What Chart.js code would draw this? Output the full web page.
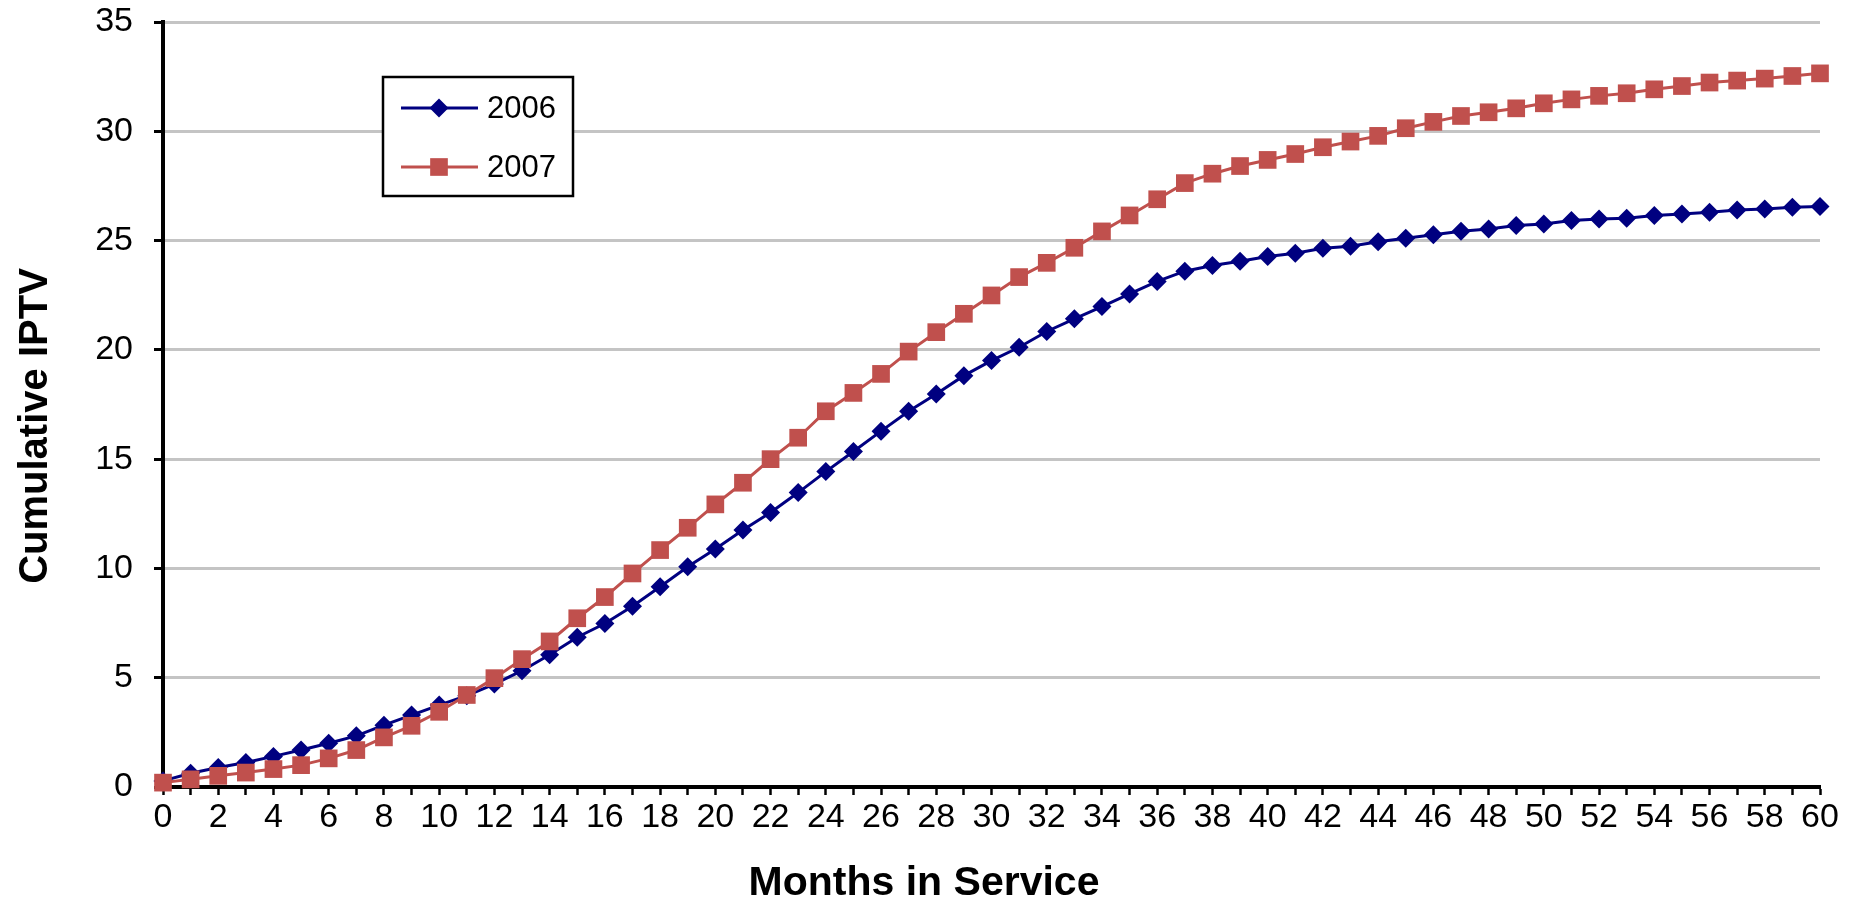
<!DOCTYPE html>
<html>
<head>
<meta charset="utf-8">
<script src="https://cdn.jsdelivr.net/npm/chart.js@4/dist/chart.umd.min.js"></script>
<style>
html,body{margin:0;padding:0;background:#fff;}
#wrap{width:1860px;height:900px;position:relative;}
</style>
</head>
<body>
<div id="wrap"><canvas id="c" width="1860" height="900"></canvas></div>
<script>
const months = [0,1,2,3,4,5,6,7,8,9,10,11,12,13,14,15,16,17,18,19,20,21,22,23,24,25,26,27,28,29,30,31,32,33,34,35,36,37,38,39,40,41,42,43,44,45,46,47,48,49,50,51,52,53,54,55,56,57,58,59,60];
const series2006 = [0.28,0.63,0.89,1.12,1.40,1.69,2.00,2.34,2.83,3.29,3.75,4.18,4.71,5.32,6.05,6.85,7.48,8.27,9.16,10.08,10.89,11.76,12.56,13.47,14.43,15.35,16.28,17.19,17.98,18.82,19.51,20.12,20.84,21.42,21.98,22.56,23.13,23.60,23.86,24.05,24.27,24.42,24.65,24.74,24.95,25.11,25.27,25.43,25.53,25.69,25.76,25.92,25.99,26.02,26.15,26.22,26.30,26.40,26.45,26.53,26.56];
const series2007 = [0.20,0.35,0.51,0.66,0.82,1.00,1.31,1.69,2.27,2.80,3.44,4.21,4.98,5.85,6.66,7.72,8.69,9.77,10.84,11.86,12.93,13.92,15.00,15.98,17.19,18.03,18.90,19.92,20.81,21.65,22.49,23.33,23.98,24.67,25.42,26.15,26.89,27.63,28.06,28.41,28.69,28.96,29.27,29.53,29.79,30.14,30.43,30.70,30.87,31.05,31.28,31.46,31.62,31.74,31.92,32.07,32.23,32.32,32.41,32.53,32.65];
const seriesLabels = ["2006","2007"];
const xTickLabels = ["0","2","4","6","8","10","12","14","16","18","20","22","24","26","28","30","32","34","36","38","40","42","44","46","48","50","52","54","56","58","60"];
const yTickLabels = ["0","5","10","15","20","25","30","35"];
const xTitle = "Months in Service";
const yTitle = "Cumulative IPTV";

const FONT = "'Liberation Sans', Arial, Helvetica, sans-serif";
const BLUE = "#000080";
const RED = "#C0504D";

function drawMarker(ctx, style, x, y, r, color) {
  ctx.fillStyle = color;
  ctx.beginPath();
  if (style === 'rectRot') {
    ctx.moveTo(x - r, y); ctx.lineTo(x, y - r); ctx.lineTo(x + r, y); ctx.lineTo(x, y + r);
  } else {
    const s = r * Math.SQRT1_2;
    ctx.rect(x - s, y - s, 2 * s, 2 * s);
  }
  ctx.closePath();
  ctx.fill();
}

const overlay = {
  id: 'overlay',
  afterDraw(chart) {
    const ctx = chart.ctx;
    ctx.save();
    ctx.fillStyle = '#000';
    ctx.textAlign = 'center';
    ctx.textBaseline = 'alphabetic';
    ctx.font = `bold 41px ${FONT}`;
    ctx.fillText(xTitle, 924, 895);
    ctx.save();
    ctx.translate(47, 426);
    ctx.rotate(-Math.PI / 2);
    ctx.font = `bold 40px ${FONT}`;
    ctx.fillText(yTitle, 0, 0);
    ctx.restore();

    // legend box
    ctx.fillStyle = '#fff';
    ctx.fillRect(383, 77, 190, 119);
    ctx.strokeStyle = '#000';
    ctx.lineWidth = 2.5;
    ctx.strokeRect(383, 77, 190, 119);
    const order = [0, 1];
    order.forEach((di, i) => {
      const ds = chart.data.datasets[di];
      const y = 108 + 59 * i;
      ctx.strokeStyle = ds.borderColor;
      ctx.lineWidth = 3;
      ctx.beginPath(); ctx.moveTo(401, y); ctx.lineTo(478, y); ctx.stroke();
      drawMarker(ctx, ds.pointStyle, 439, y, ds.pointRadius, ds.pointBackgroundColor);
      ctx.fillStyle = '#000';
      ctx.font = `31px ${FONT}`;
      ctx.textAlign = 'left';
      ctx.textBaseline = 'middle';
      ctx.fillText(ds.label, 487, y + 1);
    });
    ctx.restore();
  }
};

new Chart(document.getElementById('c'), {
  type: 'line',
  data: {
    labels: months,
    datasets: [
      {
        label: seriesLabels[0], data: series2006,
        borderColor: BLUE, backgroundColor: BLUE,
        pointBackgroundColor: BLUE, pointBorderColor: BLUE,
        pointStyle: 'rectRot', pointRadius: 9.5, pointBorderWidth: 0,
        borderWidth: 3, tension: 0, clip: false, order: 1
      },
      {
        label: seriesLabels[1], data: series2007,
        borderColor: RED, backgroundColor: RED,
        pointBackgroundColor: RED, pointBorderColor: RED,
        pointStyle: 'rect', pointRadius: 12.5, pointBorderWidth: 0,
        borderWidth: 3, tension: 0, clip: false, order: 0
      }
    ]
  },
  options: {
    responsive: false,
    animation: false,
    devicePixelRatio: 1,
    layout: { padding: { left: 0, top: 22, right: 40, bottom: 0 } },
    plugins: { legend: { display: false }, tooltip: { enabled: false } },
    scales: {
      x: {
        type: 'linear', min: 0, max: 60,
        afterFit(s) { s.height = 113; },
        border: { display: true, color: '#000', width: 4 },
        grid: { drawOnChartArea: false, drawTicks: true, tickLength: 8, tickColor: '#000', tickWidth: 2.5, color: '#000' },
        ticks: {
          stepSize: 1, autoSkip: false, maxRotation: 0, minRotation: 0, padding: 2,
          color: '#000', font: { family: FONT, size: 34 },
          callback: (v) => xTickLabels.includes(String(v)) ? String(v) : ''
        }
      },
      y: {
        min: 0, max: 35,
        afterFit(s) { s.width = 163; s.paddingTop = 0; s.paddingBottom = 0; },
        border: { display: true, color: '#000', width: 4 },
        grid: { color: '#c4c4c4', lineWidth: 3, tickLength: 9, tickColor: '#000', tickWidth: 3 },
        ticks: {
          stepSize: 5, padding: 21, color: '#000', font: { family: FONT, size: 34 },
          callback: (v) => yTickLabels.includes(String(v)) ? String(v) : ''
        }
      }
    }
  },
  plugins: [overlay]
});
</script>
</body>
</html>
